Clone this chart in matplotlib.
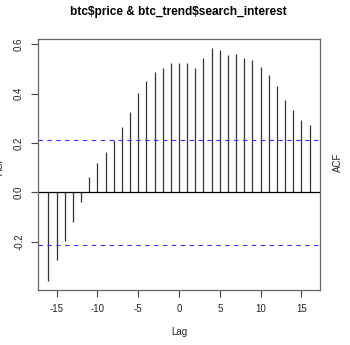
import matplotlib
matplotlib.use("Agg")
import matplotlib.pyplot as plt
import numpy as np

lags = list(range(-16, 17))
ccf_values = [-0.358, -0.274, -0.197, -0.119, -0.038, 0.062, 0.119, 0.165, 0.211,
              0.265, 0.327, 0.401, 0.452, 0.487, 0.505, 0.524,
              0.524, 0.526, 0.503, 0.545, 0.584, 0.578, 0.556, 0.559, 0.545,
              0.538, 0.509, 0.474, 0.433, 0.374, 0.335, 0.293, 0.273]
ci_bound = 0.212
xticks = [-15, -10, -5, 0, 5, 10, 15]
yticks = [-0.2, 0.0, 0.2, 0.4, 0.6]
title = "btc$price & btc_trend$search_interest"

plt.rcParams['font.family'] = ['Liberation Sans', 'DejaVu Sans']
plt.rcParams['text.parse_math'] = False

fig = plt.figure(figsize=(3.5, 3.45), dpi=100)
ax = fig.add_axes([38/350, 55/345, 282/350, 251/345])

ax.vlines(lags, 0, ccf_values, colors='#333333', linewidth=0.9)
ax.axhline(0, color='black', linewidth=0.9)
ax.axhline(ci_bound, color='#3333ff', linewidth=0.8, linestyle=(0, (4, 4)))
ax.axhline(-ci_bound, color='#3333ff', linewidth=0.8, linestyle=(0, (4, 4)))

xr = max(lags) - min(lags)
ax.set_xlim(min(lags) - 0.04 * xr, max(lags) + 0.04 * xr)
yr = max(ccf_values) - min(ccf_values)
ax.set_ylim(min(ccf_values) - 0.04 * yr, max(ccf_values) + 0.04 * yr)

ax.set_xticks(xticks)
ax.set_xticklabels([str(t) for t in xticks])
ax.set_yticks(yticks)
ax.set_yticklabels([f"{t:.1f}" for t in yticks], rotation=90, va='center')
ax.tick_params(axis='both', labelsize=7, colors='#444444', length=5, width=0.8, pad=5)
ax.tick_params(axis='x', labelcolor='#222222')
ax.tick_params(axis='y', labelcolor='#222222')
for s in ax.spines.values():
    s.set_color('#666666')
    s.set_linewidth(0.9)

fig.text(178/350, 1 - 12.5/345, title, ha='center', va='center', fontsize=8.6, fontweight='bold')
fig.text(179/350, 1 - 332/345, "Lag", ha='center', va='center', fontsize=7, color='#222222')
fig.text(0/350, 1 - 165/345, "ACF", ha='center', va='center', fontsize=7, rotation=90, color='#222222')
fig.text(338/350, 1 - 162/345, "ACF", ha='center', va='center', fontsize=7, rotation=90, color='#222222')

fig.savefig("out.png", dpi=100)
